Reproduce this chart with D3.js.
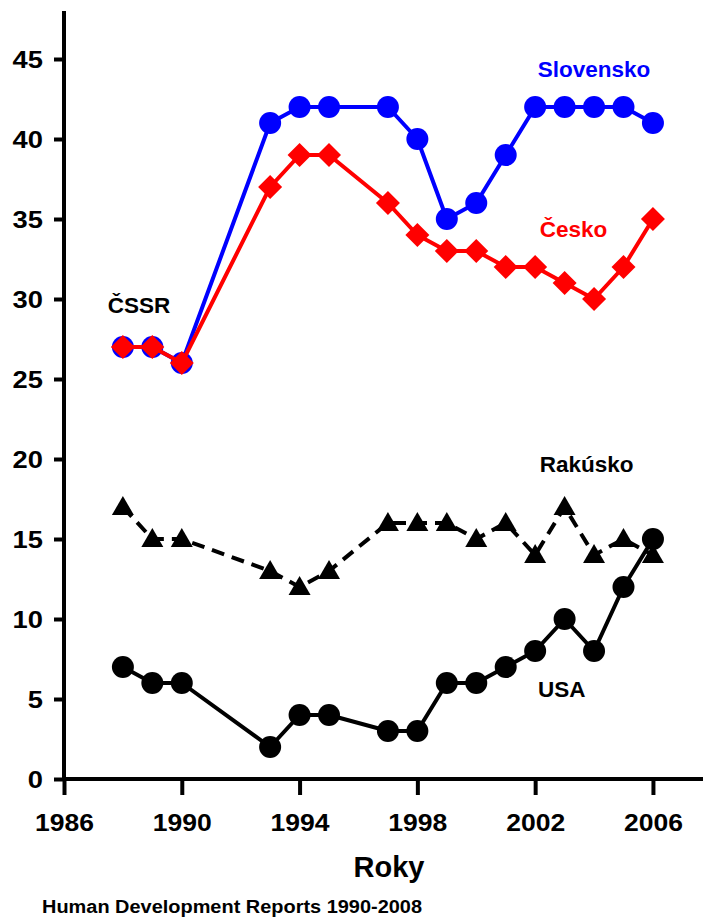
<!DOCTYPE html>
<html><head><meta charset="utf-8">
<script src="https://cdn.jsdelivr.net/npm/d3@7"></script>
<style>body{margin:0;background:#fff}svg{display:block}text{font-family:"Liberation Sans",Arial,sans-serif;font-weight:bold}</style>
</head><body>
<svg id="c" width="704" height="921"></svg>
<script>
const years = [1988,1989,1990,1993,1994,1995,1997,1998,1999,2000,2001,2002,2003,2004,2005,2006];
const slovensko = [27,27,26,41,42,42,42,40,35,36,39,42,42,42,42,41];
const cesko = [27,27,26,37,39,39,36,34,33,33,32,32,31,30,32,35];
const rakusko = [17,15,15,13,12,13,16,16,16,15,16,14,17,14,15,14];
const usa = [7,6,6,2,4,4,3,3,6,6,7,8,10,8,12,15];
const xTicks = [1986,1990,1994,1998,2002,2006];
const yTicks = [0,5,10,15,20,25,30,35,40,45];
const labels = [
  {t:"Slovensko", x:2004.0, y:43.9, c:"#0000ff"},
  {t:"Česko", x:2003.3, y:33.9, c:"#ff0000"},
  {t:"ČSSR", x:1988.55, y:29.1, c:"#000"},
  {t:"Rakúsko", x:2003.75, y:19.2, c:"#000"},
  {t:"USA", x:2002.9, y:5.1, c:"#000"}
];

const svg = d3.select("#c");
const x = d3.scaleLinear().domain([1986, 2007.7]).range([64, 703]);
const y = d3.scaleLinear().domain([0, 48]).range([779, 11]);

// axes
const gx = svg.append("g").attr("transform","translate(0,779)")
  .call(d3.axisBottom(x).tickValues(xTicks).tickFormat(d3.format("d")).tickSize(16).tickPadding(18));
const gy = svg.append("g").attr("transform","translate(64,0)")
  .call(d3.axisLeft(y).tickValues(yTicks).tickSize(10).tickPadding(11));
[gx,gy].forEach(g=>{
  g.select(".domain").attr("stroke","#000").attr("stroke-width",4);
  g.selectAll(".tick line").attr("stroke","#000").attr("stroke-width",4);
  g.selectAll("text").attr("fill","#000").style("font-family",'"Liberation Sans",Arial,sans-serif').style("font-weight","bold");
});
gx.selectAll("text").style("font-size","24.5px").attr("dy","0.72em")
  .attr("textLength",59).attr("lengthAdjust","spacingAndGlyphs");
gy.selectAll("text").style("font-size","23px").attr("dy","0.36em")
  .attr("textLength",d=>String(d).length*15.2).attr("lengthAdjust","spacingAndGlyphs");
gx.select(".domain").attr("d", `M${x(1986)},0H${703}`);
gy.select(".domain").attr("d", `M0,${y(0)+2}V${y(48)}`);

const line = d3.line().x(d=>x(d[0])).y(d=>y(d[1]));
function series(vals, color, dash){
  const pts = years.map((yr,i)=>[yr, vals[i]]);
  svg.append("path").datum(pts).attr("d",line).attr("fill","none")
    .attr("stroke",color).attr("stroke-width",4).attr("stroke-linejoin","round")
    .attr("stroke-dasharray", dash || null);
  return pts;
}
function circles(pts,color){
  svg.append("g").selectAll("circle").data(pts).join("circle")
    .attr("cx",d=>x(d[0])).attr("cy",d=>y(d[1])).attr("r",11).attr("fill",color);
}
const diamond = "M0,-12L12,0L0,12L-12,0Z";
const triangle = "M0,-11L11,8L-11,8Z";

const sk = series(slovensko,"#0000ff");
circles(sk,"#0000ff");
const cz = series(cesko,"#ff0000");
svg.append("g").selectAll("path").data(cz).join("path")
  .attr("d",diamond).attr("transform",d=>`translate(${x(d[0])},${y(d[1])})`).attr("fill","#ff0000");
const at = series(rakusko,"#000","13,8");
svg.append("g").selectAll("path").data(at).join("path")
  .attr("d",triangle).attr("transform",d=>`translate(${x(d[0])},${y(d[1])})`).attr("fill","#000");
const us = series(usa,"#000");
circles(us,"#000");

svg.append("g").selectAll("text").data(labels).join("text")
  .attr("x",d=>x(d.x)).attr("y",d=>y(d.y)).attr("text-anchor","middle")
  .attr("fill",d=>d.c).style("font-size","22.5px").text(d=>d.t);

svg.append("text").attr("x",389).attr("y",877).attr("text-anchor","middle")
  .style("font-size","29px").attr("fill","#000").text("Roky");
svg.append("text").attr("x",42).attr("y",913).style("font-size","18px").attr("fill","#000")
  .attr("textLength",380).attr("lengthAdjust","spacingAndGlyphs")
  .text("Human Development Reports 1990-2008");
</script>
</body></html>
